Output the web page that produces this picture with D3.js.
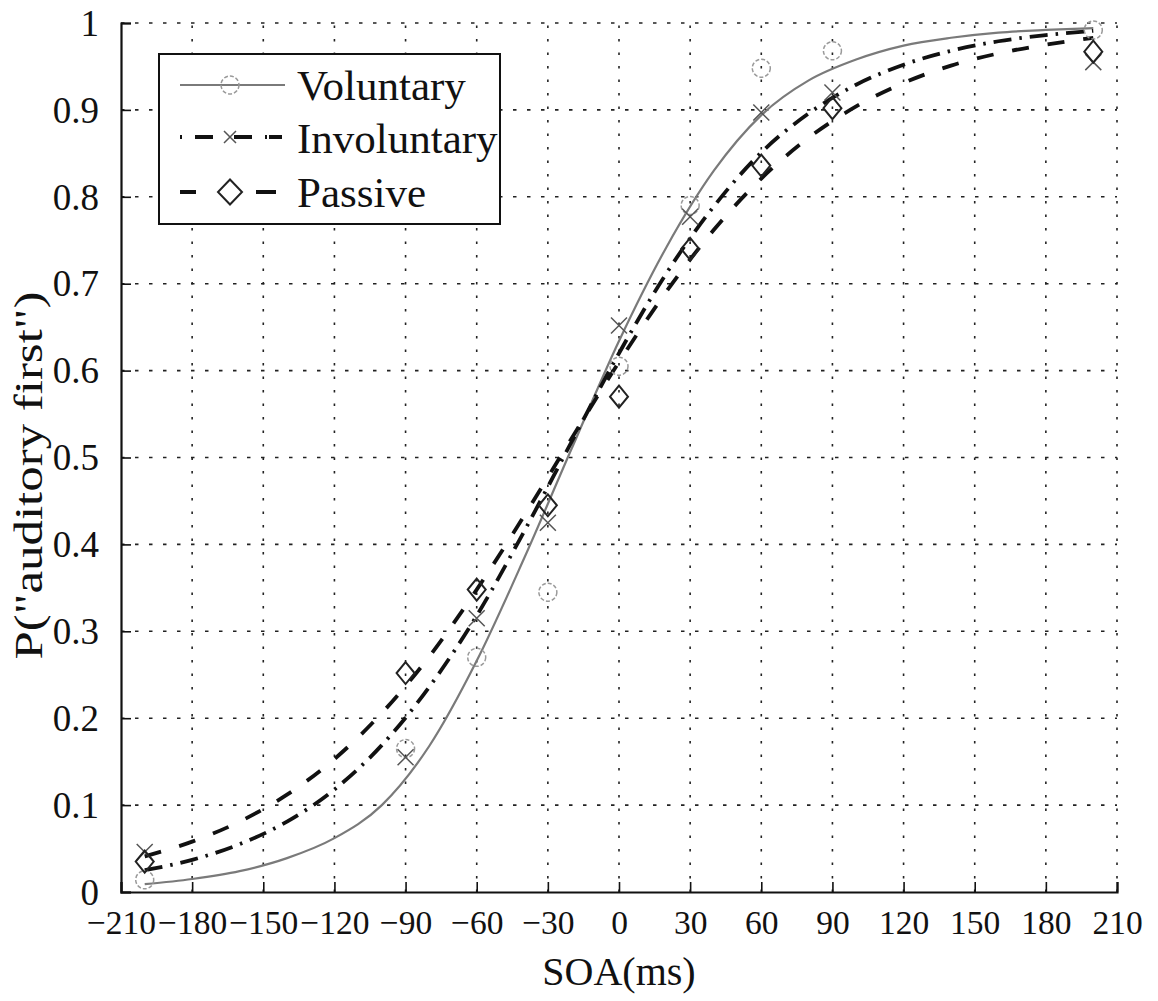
<!DOCTYPE html>
<html>
<head>
<meta charset="utf-8">
<script src="https://cdn.jsdelivr.net/npm/d3@7"></script>
<style>
  html, body { margin: 0; padding: 0; background: #fff; }
  svg { display: block; }
  text { font-family: "Liberation Serif", "Times New Roman", "DejaVu Serif", serif; fill: #111; }
</style>
</head>
<body>
<svg id="chart" width="1158" height="1001"></svg>
<script>
// ---------- data ----------
const xTicks = [-210, -180, -150, -120, -90, -60, -30, 0, 30, 60, 90, 120, 150, 180, 210];
const yTicks = [0, 0.1, 0.2, 0.3, 0.4, 0.5, 0.6, 0.7, 0.8, 0.9, 1];
const yTickLabels = ["0", "0.1", "0.2", "0.3", "0.4", "0.5", "0.6", "0.7", "0.8", "0.9", "1"];

// observed data points
const soaPoints = [-200, -90, -60, -30, 0, 30, 60, 90, 200];
const voluntaryPts   = [0.014, 0.165, 0.27, 0.345, 0.605, 0.79, 0.948, 0.968, 0.992];
const involuntaryPts = [0.046, 0.155, 0.315, 0.425, 0.652, 0.777, 0.897, 0.92, 0.955];
const passivePts     = [0.035, 0.252, 0.348, 0.445, 0.57, 0.74, 0.836, 0.902, 0.967];

// fitted curves
const curveSOA = [-200, -180, -160, -140, -120, -100, -80, -60, -40, -20, 0, 20, 40, 60, 80, 100, 120, 140, 160, 180, 200];
const voluntaryFit   = [0.009, 0.015, 0.024, 0.039, 0.062, 0.1, 0.168, 0.266, 0.384, 0.51, 0.634, 0.742, 0.83, 0.894, 0.934, 0.958, 0.974, 0.983, 0.989, 0.992, 0.994];
const involuntaryFit = [0.025, 0.037, 0.055, 0.081, 0.118, 0.169, 0.236, 0.318, 0.415, 0.518, 0.62, 0.712, 0.789, 0.851, 0.896, 0.929, 0.952, 0.968, 0.979, 0.986, 0.991];
const passiveFit     = [0.041, 0.058, 0.081, 0.112, 0.153, 0.206, 0.271, 0.348, 0.433, 0.522, 0.61, 0.691, 0.762, 0.821, 0.868, 0.904, 0.931, 0.951, 0.965, 0.975, 0.983];

const seriesNames = ["Voluntary", "Involuntary", "Passive"];

// ---------- drawing ----------
const svg = d3.select("#chart");
const x = d3.scaleLinear().domain([-210, 210]).range([121, 1117]);
const y = d3.scaleLinear().domain([0, 1]).range([892, 23]);

const fmtMinus = v => (v < 0 ? "\u2212" + Math.abs(v) : String(v));

// grid
const grid = svg.append("g");
grid.selectAll("line.vg").data(xTicks.slice(1)).join("line")
  .attr("x1", d => x(d)).attr("x2", d => x(d))
  .attr("y1", y(0)).attr("y2", y(1))
  .attr("stroke", "#222").attr("stroke-width", 1.6)
  .attr("stroke-dasharray", "2.5,11");
grid.selectAll("line.hg").data(yTicks.slice(1)).join("line")
  .attr("x1", x(-210)).attr("x2", x(210))
  .attr("y1", d => y(d)).attr("y2", d => y(d))
  .attr("stroke", "#222").attr("stroke-width", 1.6)
  .attr("stroke-dasharray", "3.5,10.5");

// axes
const xAxis = d3.axisBottom(x).tickValues(xTicks).tickSize(-10).tickFormat(fmtMinus).tickPadding(18);
const yAxis = d3.axisLeft(y).tickValues(yTicks).tickSize(-10).tickFormat((d, i) => yTickLabels[i]).tickPadding(22);

const gx = svg.append("g").attr("transform", `translate(0,${y(0)})`).call(xAxis);
const gy = svg.append("g").attr("transform", `translate(${x(-210)},0)`).call(yAxis);
[gx, gy].forEach(g => {
  g.select(".domain").attr("stroke", "#111").attr("stroke-width", 2.2);
  g.selectAll(".tick line").attr("stroke", "#111").attr("stroke-width", 1.6);
  g.selectAll(".tick text").attr("font-family", null).attr("fill", "#111");
});
gx.selectAll(".tick text").attr("font-size", 33.5).attr("dy", "0.71em");
gy.selectAll(".tick text").attr("font-size", 37).attr("dy", "0.33em");

// axis titles
svg.append("text").attr("x", x(0)).attr("y", 985).attr("text-anchor", "middle")
  .attr("font-size", 40).text("SOA(ms)");
svg.append("text").attr("transform", `translate(42,${y(0.5) + 18}) rotate(-90)`).attr("text-anchor", "middle")
  .attr("font-size", 40).attr("textLength", 368).attr("lengthAdjust", "spacingAndGlyphs")
  .text("P(\"auditory first\")");

// curves
const line = d3.line().x(d => x(d[0])).y(d => y(d[1])).curve(d3.curveMonotoneX);
const styles = [
  { stroke: "#7a7a7a", width: 2.2, dash: null },
  { stroke: "#111", width: 3.8, dash: "18,8,2.5,8" },
  { stroke: "#111", width: 3.8, dash: "17,19" }
];
const fits = [voluntaryFit, involuntaryFit, passiveFit];
const pts = [voluntaryPts, involuntaryPts, passivePts];

const plot = svg.append("g");
fits.forEach((f, i) => {
  plot.append("path").datum(curveSOA.map((s, j) => [s, f[j]]))
    .attr("d", line).attr("fill", "none")
    .attr("stroke", styles[i].stroke).attr("stroke-width", styles[i].width)
    .attr("stroke-dasharray", styles[i].dash);
});

function drawMarker(g, type, cx, cy, big) {
  if (type === 0) {
    g.append("circle").attr("cx", cx).attr("cy", cy).attr("r", 9)
      .attr("fill", "none").attr("stroke", "#9a9a9a").attr("stroke-width", 1.5)
      .attr("stroke-dasharray", "4,2");
  } else if (type === 1) {
    const s = big ? 6 : 8;
    g.append("path").attr("d", `M${cx - s},${cy - s}L${cx + s},${cy + s}M${cx - s},${cy + s}L${cx + s},${cy - s}`)
      .attr("stroke", "#555").attr("stroke-width", 1.5).attr("fill", "none");
  } else {
    const w = big ? 12 : 9, h = big ? 12.5 : 11;
    g.append("path").attr("d", `M${cx},${cy - h}L${cx + w},${cy}L${cx},${cy + h}L${cx - w},${cy}Z`)
      .attr("stroke", "#222").attr("stroke-width", 2).attr("fill", "none");
  }
}

pts.forEach((p, i) => {
  p.forEach((v, j) => drawMarker(plot, i, x(soaPoints[j]), y(v), false));
});

// legend
const lg = svg.append("g");
lg.append("rect").attr("x", 159).attr("y", 54).attr("width", 341).attr("height", 170)
  .attr("fill", "#fff").attr("stroke", "#111").attr("stroke-width", 2);
const legendY = [85, 137, 192];
const legendBase = [100, 153, 207];
seriesNames.forEach((name, i) => {
  const ly = legendY[i];
  if (i === 0) {
    lg.append("line").attr("x1", 180).attr("x2", 285).attr("y1", ly).attr("y2", ly)
      .attr("stroke", styles[0].stroke).attr("stroke-width", styles[0].width);
  } else if (i === 1) {
    lg.append("line").attr("x1", 180).attr("x2", 282).attr("y1", ly).attr("y2", ly)
      .attr("stroke", "#111").attr("stroke-width", 3.8).attr("stroke-dasharray", "2,13,18,21,18,13,2");
  } else {
    lg.append("line").attr("x1", 180).attr("x2", 276).attr("y1", ly).attr("y2", ly)
      .attr("stroke", "#111").attr("stroke-width", 3.8).attr("stroke-dasharray", "16,60,20");
  }
  drawMarker(lg, i, 230, ly, true);
  lg.append("text").attr("x", 297).attr("y", legendBase[i]).attr("font-size", 43).text(name);
});
</script>
</body>
</html>
